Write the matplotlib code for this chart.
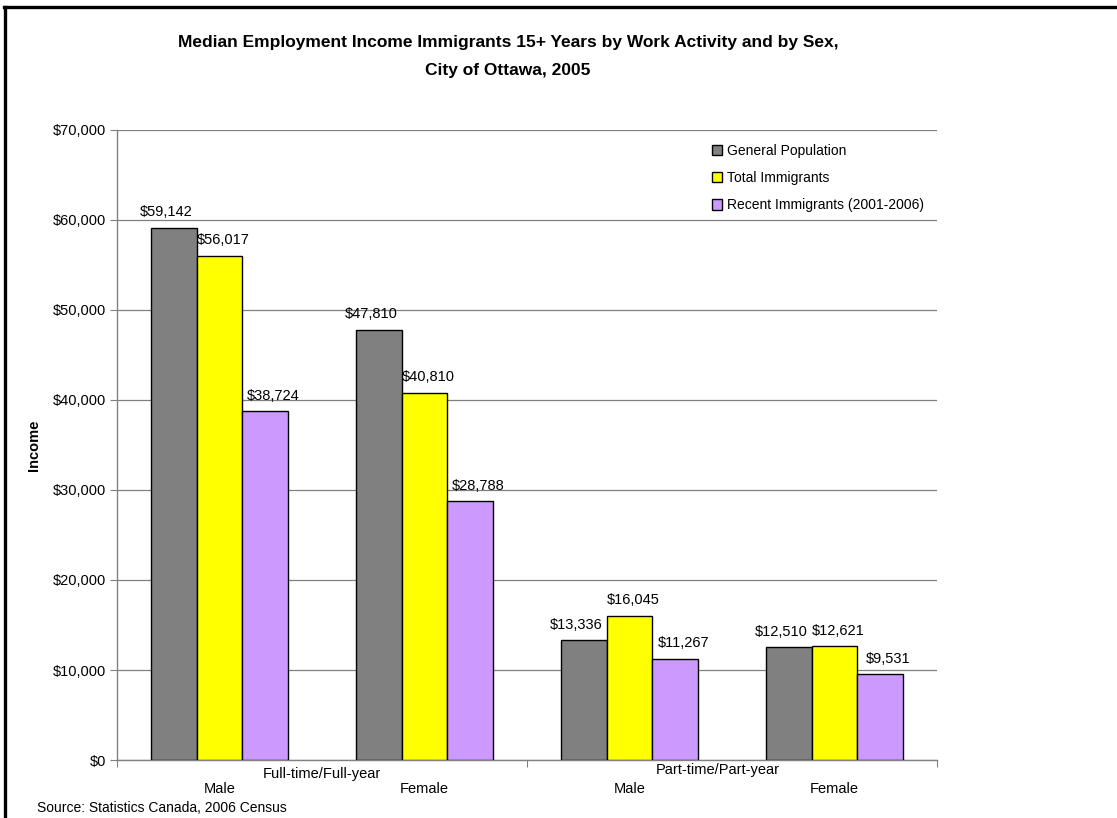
import numpy as np
import matplotlib.pyplot as plt
from matplotlib.lines import Line2D

plt.rcParams['font.family'] = ['Liberation Sans', 'DejaVu Sans']

categories = ["Male", "Female", "Male", "Female"]
groups = ["Full-time/ Full-year", "Part-time/ Part-year"]
series = ["General Population", "Total Immigrants", "Recent Immigrants (2001-2006)"]
general_pop = [59142, 47810, 13336, 12510]
total_imm = [56017, 40810, 16045, 12621]
recent_imm = [38724, 28788, 11267, 9531]
colors = ["#808080", "#FFFF00", "#CC99FF"]

fig = plt.figure(figsize=(11.17, 8.18), dpi=100)
ax = fig.add_axes([0.1047, 0.0709, 0.7341, 0.7702])

x = np.arange(len(categories))
w = 0.223
# value labels sit a little off-centre, the way the spreadsheet spreads them out
label_dx = [-5.5, 3, 6]
for i, (vals, name) in enumerate(zip([general_pop, total_imm, recent_imm], series)):
    bars = ax.bar(x + (i - 1) * w, vals, w, color=colors[i], edgecolor="black",
                  linewidth=1, label=name, zorder=3)
    for b, v in zip(bars, vals):
        ax.annotate("${:,}".format(v), (b.get_x() + b.get_width() / 2, v),
                    xytext=(label_dx[i], 6), textcoords="offset points",
                    ha="center", va="bottom", fontsize=10.5)

ax.set_xlim(-0.5, 3.5)
ax.set_ylim(0, 70000)
ax.set_yticks(np.arange(0, 70001, 10000))
ax.set_yticklabels(["${:,}".format(v) for v in range(0, 70001, 10000)], fontsize=10.5)
ax.yaxis.grid(True, color="#808080", linewidth=0.9, zorder=0)
ax.tick_params(axis="y", length=5, color="#808080", pad=3)

# group separators as major ticks, category names as minor ticks
ax.set_xticks([-0.5, 1.5, 3.5])
ax.set_xticklabels([])
ax.set_xticks(x, minor=True)
ax.set_xticklabels(categories, minor=True, fontsize=10.5)
ax.tick_params(axis="x", which="major", length=5, color="#808080")
ax.tick_params(axis="x", which="minor", length=0, pad=16)
for gx, gy, name in zip([0.5, 2.43], [-0.011, -0.005], groups):
    ax.text(gx, gy, name.replace("/ ", "/"), transform=ax.get_xaxis_transform(),
            ha="center", va="top", fontsize=10.5)

for s in ["top", "right"]:
    ax.spines[s].set_visible(False)
for s in ["left", "bottom"]:
    ax.spines[s].set_color("#808080")
    ax.spines[s].set_linewidth(1)

ax.set_ylabel("Income", fontsize=10.5, fontweight="bold", labelpad=8)

leg = ax.legend(loc="upper left", bbox_to_anchor=(712 / 1117, 1 - 144 / 818),
                bbox_transform=fig.transFigure, frameon=False, fontsize=10,
                handlelength=0.75, handleheight=0.75, handletextpad=0.3,
                labelspacing=0.95, borderpad=0, borderaxespad=0)

fig.text(508 / 1117, 1 - 56.5 / 818,
         "Median Employment Income Immigrants 15+ Years by Work Activity and by Sex,\nCity of Ottawa, 2005",
         ha="center", va="center", fontsize=12.5, fontweight="bold", linespacing=2.0)
fig.text(37 / 1117, 1 - 808 / 818, "Source: Statistics Canada, 2006 Census",
         ha="left", va="center", fontsize=10)

# frame around the chart area
fig.add_artist(Line2D([4.5 / 1117, 4.5 / 1117], [0, 1 - 7 / 818], color="black",
                      linewidth=2.4, transform=fig.transFigure))
fig.add_artist(Line2D([3.5 / 1117, 1], [1 - 7 / 818, 1 - 7 / 818], color="black",
                      linewidth=2.4, transform=fig.transFigure))

fig.savefig("out.png", dpi=100)
